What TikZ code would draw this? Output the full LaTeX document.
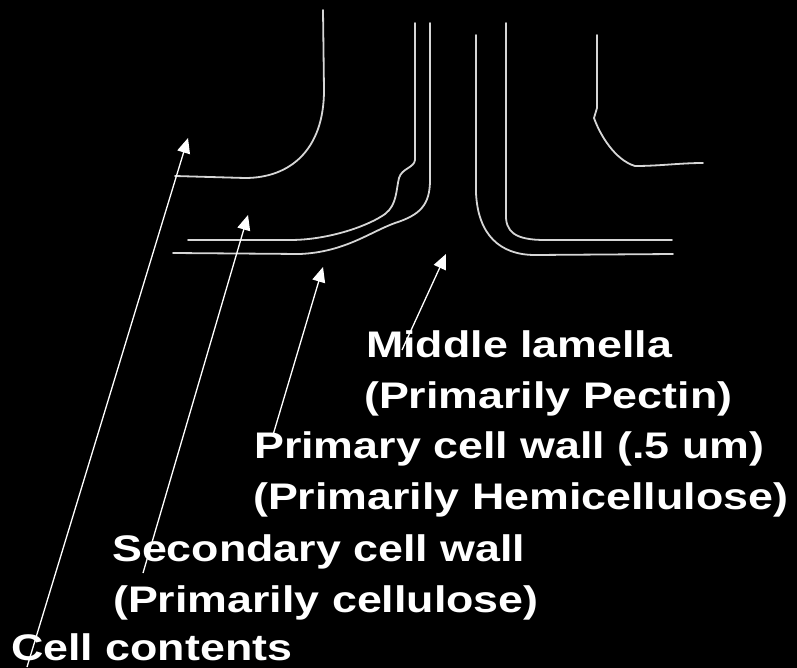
\documentclass[tikz,border=0pt]{standalone}
\usepackage{fontspec}
\setmainfont{Liberation Sans}[FakeStretch=1.21]
\usetikzlibrary{arrows.meta}
\definecolor{wallgray}{RGB}{214,214,214}
\tikzset{
  wall/.style={draw=wallgray, line width=1.8bp, line join=round, line cap=round},
  pointer/.style={draw=white, line width=1.3bp, -{Triangle[length=15bp,width=13bp]}},
  nametext/.style={anchor=base west, inner sep=0pt, text=white,
    font=\bfseries\fontsize{37bp}{40bp}\selectfont}
}
\begin{document}
\begin{tikzpicture}[x=1bp,y=-1bp]
  \fill[black] (0,0) rectangle (797,668);
  \useasboundingbox (0,0) rectangle (797,668);

  % boundary of the left cell contents
  \draw[wall] (323,10) -- (324,90) .. controls (324,150) and (290,178) .. (245,178) -- (175,176);
  % left secondary wall, inner edge with its small bulge
  \draw[wall] (415,23) -- (415,160) .. controls (414,168) and (402,168) .. (399,178)
    .. controls (396,190) and (397,205) .. (385,214)
    .. controls (370,225) and (330,240) .. (290,240) -- (188,240);
  % left primary wall
  \draw[wall] (430,23) -- (430,180) .. controls (430,205) and (420,215) .. (395,223)
    .. controls (370,232) and (345,252) .. (300,254) -- (173,253);
  % right primary wall
  \draw[wall] (476,35) -- (476,193) .. controls (478,235) and (500,255) .. (535,255) -- (673,254);
  % right secondary wall
  \draw[wall] (506,23) -- (506,213) .. controls (505,232) and (515,240) .. (545,240) -- (672,240);
  % boundary of the right cell contents
  \draw[wall] (597,35) -- (597,108) -- (594,118) .. controls (600,135) and (615,160) .. (635,166)
    .. controls (660,166) and (680,163) .. (703,163);

  % labels
  \node[nametext] (ml)    at (366,357) {Middle lamella};
  \node[nametext] (mlsub) at (364,408) {(Primarily Pectin)};
  \node[nametext] (pw)    at (254,458) {Primary cell wall (.5 um)};
  \node[nametext] (pwsub) at (253,509) {(Primarily Hemicellulose)};
  \node[nametext] (sw)    at (112,561) {Secondary cell wall};
  \node[nametext] (swsub) at (113,612) {(Primarily cellulose)};
  \node[nametext] (cc)    at (11,660)  {Cell contents};

  % pointer ends
  \coordinate (ccTail) at (27,667);
  \coordinate (ccTip)  at (188,138);
  \coordinate (swTail) at (143,573);
  \coordinate (swTip)  at (248,215);
  \coordinate (pwTail) at (273,435);
  \coordinate (pwTip)  at (323,267);
  \coordinate (mlTail) at (402,350);
  \coordinate (mlTip)  at (446,254);

  \draw[pointer] (ccTail) -- (ccTip);
  \draw[pointer] (swTail) -- (swTip);
  \draw[pointer] (pwTail) -- (pwTip);
  \draw[pointer] (mlTail) -- (mlTip);
\end{tikzpicture}
\end{document}
